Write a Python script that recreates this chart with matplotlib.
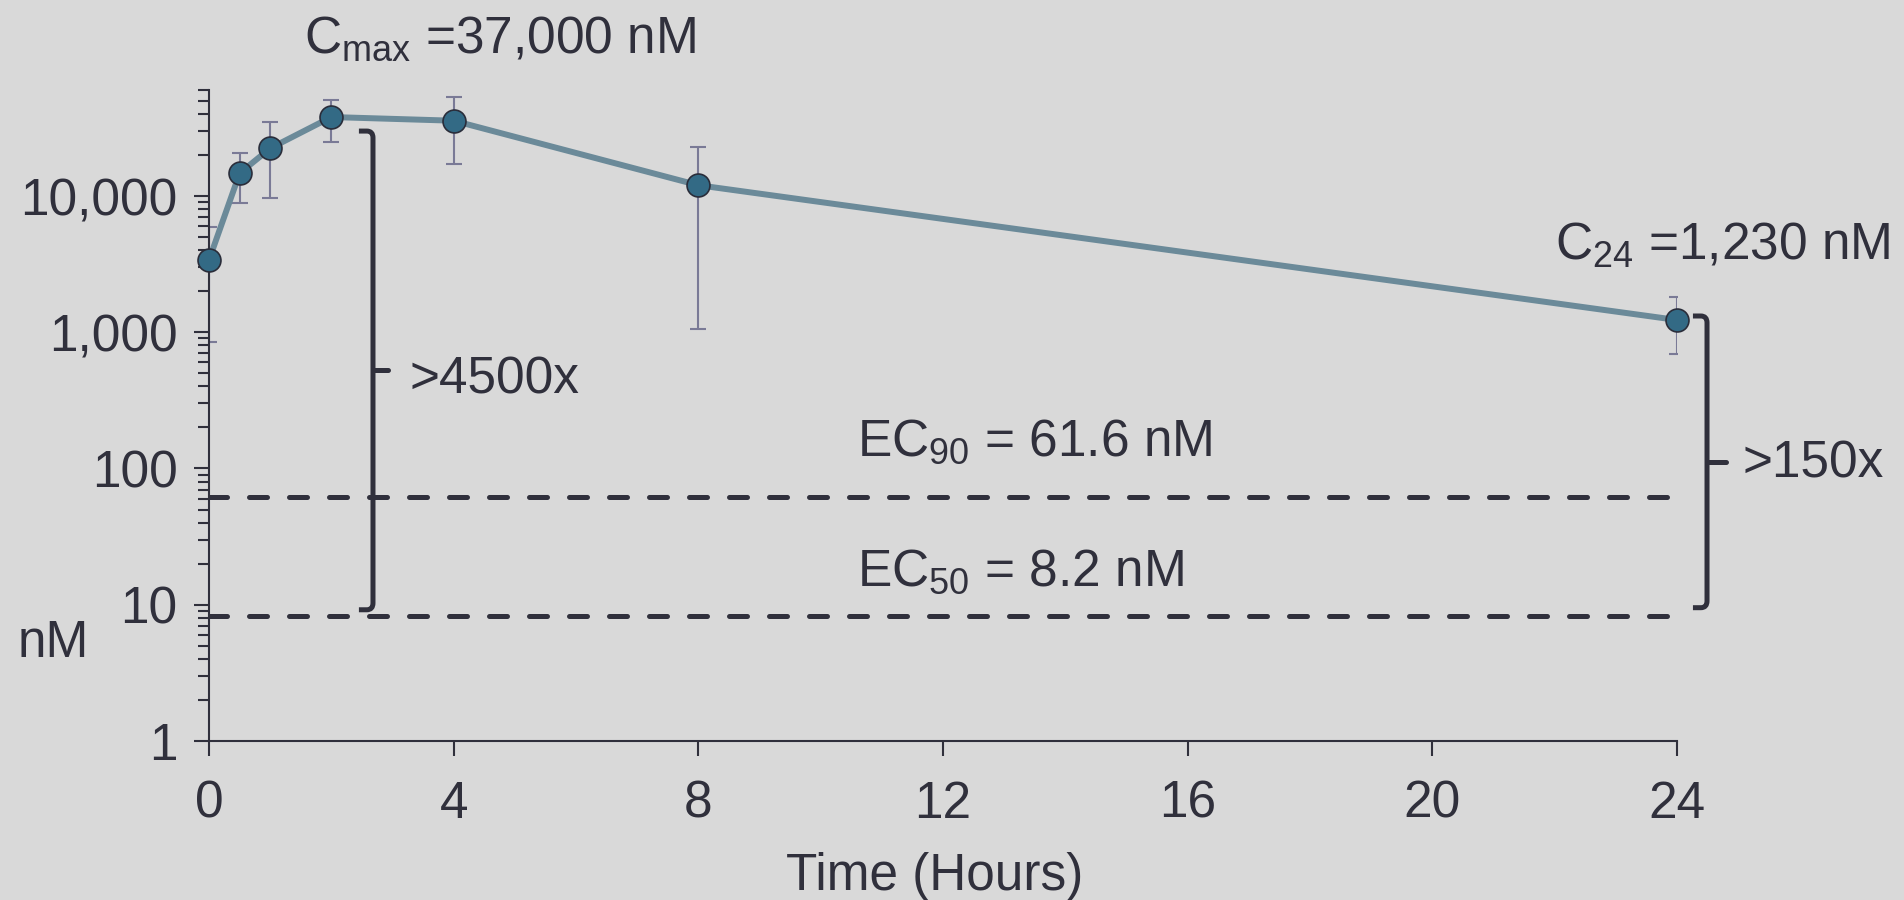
import matplotlib
matplotlib.use("Agg")
import matplotlib.pyplot as plt
from matplotlib.path import Path
from matplotlib.patches import PathPatch
from matplotlib.ticker import LogLocator, FuncFormatter

# 数据 (小时, nM)
hours = [0, 0.5, 1, 2, 4, 8, 24]
conc = [3400, 14700, 22400, 38000, 35700, 12000, 1230]
err_upper = [5900, 20800, 35000, 51000, 53000, 23000, 1800]
err_lower = [850, 8900, 9700, 25000, 17300, 1050, 690]

ec50 = 8.2
ec90 = 61.6
cmax = 37000
c24 = 1230
x_ticks = [0, 4, 8, 12, 16, 20, 24]
y_ticks = [1, 10, 100, 1000, 10000]

bg = '#d9d9d9'
dark = '#30303c'
line_col = '#6b8a99'
face_col = '#336a85'
err_col = '#7a7a96'

plt.rcParams['font.family'] = ['Liberation Sans', 'DejaVu Sans']
plt.rcParams['mathtext.fontset'] = 'custom'
plt.rcParams['mathtext.rm'] = 'Liberation Sans'
plt.rcParams['mathtext.it'] = 'Liberation Sans'
fs = 37

fig = plt.figure(figsize=(19.04, 9), dpi=100, facecolor=bg)
ax = fig.add_axes([0.1098, 0.1767, 0.7710, 0.7233])
ax.set_facecolor(bg)

# 误差棒
yerr = [[c - lo for c, lo in zip(conc, err_lower)],
        [hi - c for c, hi in zip(conc, err_upper)]]
ax.errorbar(hours, conc, yerr=yerr, fmt='none', ecolor=err_col,
            elinewidth=1.5, capsize=5.8, capthick=1.5, zorder=2)

# 曲线和点
ax.plot(hours, conc, color=line_col, lw=4.3, zorder=3, clip_on=False)
ax.plot(hours, conc, 'o', ms=16.5, mfc=face_col, mec='#2a2d3a', mew=1.2,
        zorder=4, clip_on=False)

# EC50 / EC90 虚线
ax.hlines([ec90, ec50], 0, 24, colors=dark, lw=3.6,
          linestyles=(0, (3.6, 4.4)), capstyle='round', zorder=1)

# 括号 (圆角)
def bracket(x_hook, x_bar, x_tip, top, bottom):
    mid = (top * bottom) ** 0.5
    rx = 0.1
    ry = 1.12
    verts = [(x_hook, top), (x_bar - rx, top), (x_bar, top), (x_bar, top / ry),
             (x_bar, bottom * ry), (x_bar, bottom), (x_bar - rx, bottom),
             (x_hook, bottom)]
    codes = [Path.MOVETO, Path.LINETO, Path.CURVE3, Path.CURVE3,
             Path.LINETO, Path.CURVE3, Path.CURVE3, Path.LINETO]
    ax.add_patch(PathPatch(Path(verts, codes), fill=False, edgecolor=dark,
                           lw=3.6, capstyle='butt', joinstyle='round',
                           clip_on=False, zorder=2))
    ax.plot([x_bar, x_tip], [mid, mid], color=dark, lw=3.6,
            solid_capstyle='round', clip_on=False, zorder=2)

bracket(2.45, 2.68, 2.93, cmax * 0.81, ec50 * 1.12)
bracket(24.26, 24.49, 24.8, c24 * 1.07, ec50 * 1.16)

# 坐标轴
ax.set_yscale('log')
ax.set_xlim(0, 24)
ax.set_ylim(1, 60000)
ax.set_xticks(x_ticks)
ax.set_yticks(y_ticks)
ax.yaxis.set_minor_locator(LogLocator(base=10, subs=range(2, 10)))
ax.yaxis.set_major_formatter(FuncFormatter(lambda v, p: '{:,}'.format(int(round(v)))))
ax.yaxis.set_minor_formatter(FuncFormatter(lambda v, p: ''))
for s in ['top', 'right']:
    ax.spines[s].set_visible(False)
for s in ['left', 'bottom']:
    ax.spines[s].set_color(dark)
    ax.spines[s].set_linewidth(1.5)
ax.tick_params(axis='both', which='major', direction='out', length=10.8,
               width=1.5, color=dark, labelcolor=dark, labelsize=fs)
ax.tick_params(axis='y', which='minor', direction='out', length=8,
               width=1.5, color=dark)
ax.tick_params(axis='y', pad=12)
ax.tick_params(axis='x', pad=17)

# 文字
fig.text(0.1597, 0.942, r'C$_{\rm max}$ =37,000 nM', fontsize=fs, color=dark,
         ha='left', va='baseline')
fig.text(0.8167, 0.712, r'C$_{\rm 24}$ =1,230 nM', fontsize=fs, color=dark,
         ha='left', va='baseline')
fig.text(0.45, 0.494, r'EC$_{\rm 90}$ = 61.6 nM', fontsize=fs, color=dark,
         ha='left', va='baseline')
fig.text(0.45, 0.349, r'EC$_{\rm 50}$ = 8.2 nM', fontsize=fs, color=dark,
         ha='left', va='baseline')
fig.text(0.2153, 0.5633, '>4500x', fontsize=fs, color=dark,
         ha='left', va='baseline')
fig.text(0.9154, 0.4689, '>150x', fontsize=fs, color=dark,
         ha='left', va='baseline')
fig.text(0.0095, 0.27, 'nM', fontsize=fs, color=dark, ha='left', va='baseline')
fig.text(0.491, 0.011, 'Time (Hours)', fontsize=fs, color=dark,
         ha='center', va='baseline')

fig.savefig('out.png', dpi=100, facecolor=bg)
